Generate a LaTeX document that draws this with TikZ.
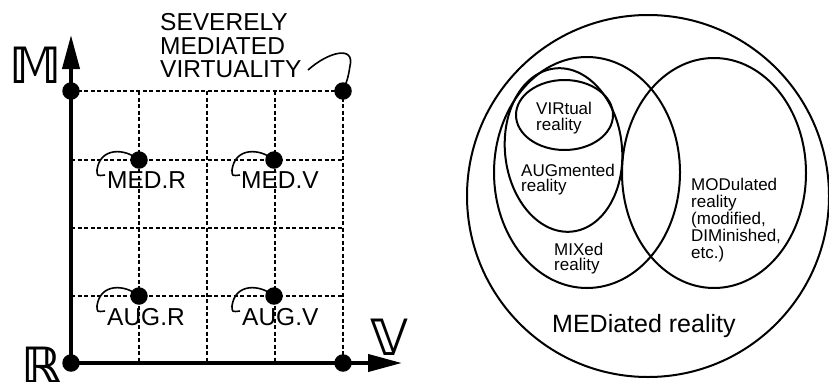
\documentclass[tikz,border=0pt]{standalone}
\usepackage{fontspec}
\setmainfont{Liberation Sans}
\newfontfamily\dsfamily{DejaVu Sans}
\usetikzlibrary{arrows.meta,calc}

\begin{document}
\begin{tikzpicture}[x=1pt,y=-1pt,
  dot/.style={circle,fill=black,inner sep=0pt,minimum size=17.5pt},
  gridline/.style={line width=1.4pt,dash pattern=on 4pt off 2.5pt},
  axis/.style={line width=4pt,-{Triangle[length=34pt,width=17pt]}},
  leader/.style={line width=1.6pt},
  setline/.style={line width=2pt},
  lbl/.style={inner sep=0pt,anchor=base west,align=left},
  big/.style={font=\fontsize{24.5pt}{23.3pt}\selectfont},
  small/.style={font=\fontsize{17pt}{16pt}\selectfont},
  dsl/.style={inner sep=0pt,anchor=base west,font=\dsfamily\bfseries\fontsize{50pt}{50pt}\selectfont}
]
\useasboundingbox (0,0) rectangle (829,381);

% ---------- left: the reality / virtuality / mediality grid ----------
\foreach \x in {139,207,275,343} \draw[gridline] (\x,91) -- (\x,363);
\foreach \y in {91,160,228,296} \draw[gridline] (71,\y) -- (343,\y);

\coordinate (O) at (71,363);
\coordinate (ytip) at (71,35);
\coordinate (xtip) at (402,363);
\draw[axis] (O) -- (ytip);
\draw[axis] (O) -- (xtip);

% axis letters
\node[dsl] (lM) at (9,83) {𝕄};
\node[dsl] (lR) at (21,383) {ℝ};
\node[dsl] (lV) at (370,355) {𝕍};

% labels (a multi-line node sits on the baseline of its last line)
\node[big,lbl] (smv) at (160,77.5) {SEVERELY\\MEDIATED\\VIRTUALITY};
\node[big,lbl] (medr) at (107,188) {MED.R};
\node[big,lbl] (medv) at (241,188) {MED.V};
\node[big,lbl] (augr) at (107,325) {AUG.R};
\node[big,lbl] (augv) at (242,325) {AUG.V};

% points
\coordinate (pMR) at (139,160);
\coordinate (pMV) at (274,160);
\coordinate (pAR) at (139,296);
\coordinate (pAV) at (274,296);
\coordinate (pSMV) at (343,91);
\coordinate (smvtail) at (308,70);

% leader lines from labels to points
\foreach \d in {pMR,pMV,pAR,pAV}
  \draw[leader] (\d) .. controls ($(\d)+(-14,-12)$) and ($(\d)+(-39,-13)$)
    .. ($(\d)+(-42,10)$) .. controls ($(\d)+(-42,16)$) .. ($(\d)+(-34,15)$);
\draw[leader] (smvtail) .. controls (328,52) and (355,45) .. (350,66)
  .. controls (348,78) .. (pSMV);

\node[dot] (dR) at (O) {};
\node[dot] (dM) at (71,91) {};
\node[dot] (dV) at (343,363) {};
\node[dot] (dSMV) at (pSMV) {};
\node[dot] (dMR) at (pMR) {};
\node[dot] (dMV) at (pMV) {};
\node[dot] (dAR) at (pAR) {};
\node[dot] (dAV) at (pAV) {};

% ---------- right: nested sets of mediated reality ----------
\draw[setline] (648,196) circle[radius=181pt];
\draw[setline] (587,172.5) ellipse[x radius=93pt,y radius=115.5pt];
\draw[setline] (714,173) ellipse[x radius=92pt,y radius=115pt];
\draw[setline,rotate around={6:(563.5,150)}] (563.5,150) ellipse[x radius=58.5pt,y radius=82pt];
\draw[setline] (564.5,115) ellipse[x radius=48.5pt,y radius=35pt];

\node[small,lbl] (vir) at (536,130) {VIRtual\\reality};
\node[small,lbl,font=\fontsize{17pt}{15.5pt}\selectfont] (aug) at (521,191.5) {AUGmented\\reality};
\node[small,lbl,font=\fontsize{17pt}{15.5pt}\selectfont] (mix) at (554,270.5) {MIXed\\reality};
\node[small,lbl,font=\fontsize{17pt}{17pt}\selectfont] (mod) at (691,258) {MODulated\\reality\\(modified,\\DIMinished,\\etc.)};
\node[lbl,font=\fontsize{25pt}{25pt}\selectfont] (med) at (552,332) {MEDiated reality};
\end{tikzpicture}
\end{document}
